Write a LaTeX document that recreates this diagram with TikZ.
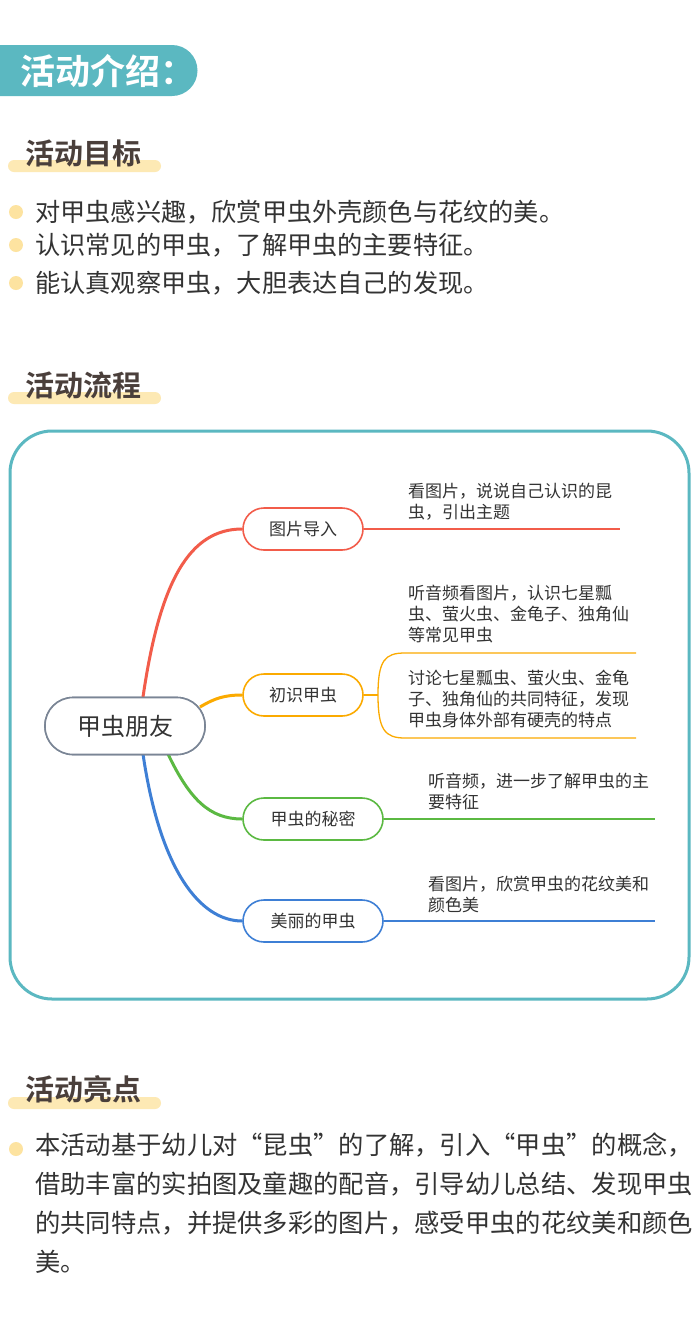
\documentclass[tikz,border=0pt]{standalone}
\usepackage{fontspec}
\setmainfont{Noto Sans CJK SC}
\newfontfamily\cjkb{Noto Sans CJK SC Bold}
\definecolor{teal1}{HTML}{5BB8C1}
\definecolor{hl}{HTML}{FDE9B4}
\definecolor{dot}{HTML}{FDE3A0}
\definecolor{tx}{HTML}{333333}
\definecolor{hd}{HTML}{4A3F3B}
\definecolor{cred}{HTML}{F25C4A}
\definecolor{corg}{HTML}{FBAA00}
\definecolor{cgrn}{HTML}{5BB942}
\definecolor{cblu}{HTML}{3E7FD5}
\definecolor{cgry}{HTML}{7A8595}
\begin{document}
\begin{tikzpicture}[x=1pt,y=-1pt,
  body/.style={anchor=west,inner sep=0pt,text=tx,font=\fontsize{25.2}{28}\selectfont},
  head/.style={anchor=west,inner sep=0pt,text=hd,font=\cjkb\fontsize{29}{32}\selectfont},
  small/.style={anchor=west,inner sep=0pt,text=tx,font=\fontsize{17}{21}\selectfont,align=left},
  branch/.style={draw,line width=1.6pt,rounded corners=21pt,minimum width=120pt,minimum height=42pt,fill=white,text=tx,font=\fontsize{17}{20}\selectfont},
  central/.style={draw=cgry,line width=1.6pt,rounded corners=28pt,minimum width=160pt,minimum height=57pt,fill=white,text=tx,font=\fontsize{24}{28}\selectfont},
  bdot/.style={circle,fill=dot,inner sep=0pt,minimum size=14pt}]
\useasboundingbox (0,0) rectangle (700,1318);
\fill[white] (0,0) rectangle (700,1318);
% header
\fill[teal1] (0,45) -- (172,45) arc[start angle=90,end angle=-90,radius=25.5pt] -- (0,96) -- cycle;
\node[anchor=west,inner sep=0pt,text=white,font=\cjkb\fontsize{35}{38}\selectfont] (h0) at (20,71) {活动介绍：};
% goals
\fill[hl,rounded corners=6pt] (8,160) rectangle (161,172);
\node[head] (h1) at (25,153) {活动目标};
\node[bdot] (d1) at (16,212) {}; \node[body] (t1) at (35,212) {对甲虫感兴趣，欣赏甲虫外壳颜色与花纹的美。};
\node[bdot] (d2) at (16,245) {}; \node[body] (t2) at (35,245) {认识常见的甲虫，了解甲虫的主要特征。};
\node[bdot] (d3) at (16,283) {}; \node[body] (t3) at (35,283) {能认真观察甲虫，大胆表达自己的发现。};
% process
\fill[hl,rounded corners=6pt] (8,392) rectangle (161,404);
\node[head] (h2) at (25,385) {活动流程};
\draw[teal1,line width=3pt,rounded corners=42pt] (10,431) rectangle (689,999);
% central
\node[central] (c) at (125,726) {甲虫朋友};
\node[branch,draw=cred] (b1) at (303,529) {图片导入};
\node[branch,draw=corg] (b2) at (303,695) {初识甲虫};
\node[branch,draw=cgrn,minimum width=140pt] (b3) at (313,819) {甲虫的秘密};
\node[branch,draw=cblu,minimum width=140pt] (b4) at (313,921) {美丽的甲虫};
\draw[cred,line width=3pt] (143,697) .. controls (160,580) and (190,529) .. (b1.west);
\draw[corg,line width=3pt] (200,707) .. controls (215,698) and (225,695) .. (b2.west);
\draw[cgrn,line width=3pt] (168,754) .. controls (190,800) and (210,819) .. (b3.west);
\draw[cblu,line width=3pt] (143,754) .. controls (160,870) and (200,921) .. (b4.west);
\node[central] (cc) at (c) {甲虫朋友};
\coordinate (e1) at (620,529);
\draw[cred,line width=1.3pt] (b1.east) -- (e1);
\node[small] (s1) at (408,502) {看图片，说说自己认识的昆\\虫，引出主题};
\coordinate (o1) at (378,695);
\coordinate (oa) at (636,653);
\coordinate (ob) at (636,738);
\draw[corg,line width=1.3pt] (b2.east) -- (o1);
\draw[corg,line width=1.3pt] (o1) .. controls (378,660) and (385,653) .. (405,653) -- (oa);
\draw[corg,line width=1.3pt] (o1) .. controls (378,730) and (385,738) .. (405,738) -- (ob);
\node[small] (s2a) at (408,614) {听音频看图片，认识七星瓢\\虫、萤火虫、金龟子、独角仙\\等常见甲虫};
\node[small] (s2b) at (408,699) {讨论七星瓢虫、萤火虫、金龟\\子、独角仙的共同特征，发现\\甲虫身体外部有硬壳的特点};
\coordinate (e3) at (655,819);
\draw[cgrn,line width=1.3pt] (b3.east) -- (e3);
\node[small] (s3) at (428,791) {听音频，进一步了解甲虫的主\\要特征};
\coordinate (e4) at (655,921);
\draw[cblu,line width=1.3pt] (b4.east) -- (e4);
\node[small] (s4) at (428,894) {看图片，欣赏甲虫的花纹美和\\颜色美};
% highlights
\fill[hl,rounded corners=6pt] (8,1097) rectangle (161,1109);
\node[head] (h3) at (25,1089) {活动亮点};
\node[bdot] (d4) at (16,1149) {};
\node[anchor=north west,inner sep=0pt,text=tx,font=\fontsize{25.3}{39}\selectfont,align=left] (t4) at (35,1133) {本活动基于幼儿对“昆虫”的了解，引入“甲虫”的概念，\\借助丰富的实拍图及童趣的配音，引导幼儿总结、发现甲虫\\的共同特点，并提供多彩的图片，感受甲虫的花纹美和颜色\\美。};
\end{tikzpicture}
\end{document}
